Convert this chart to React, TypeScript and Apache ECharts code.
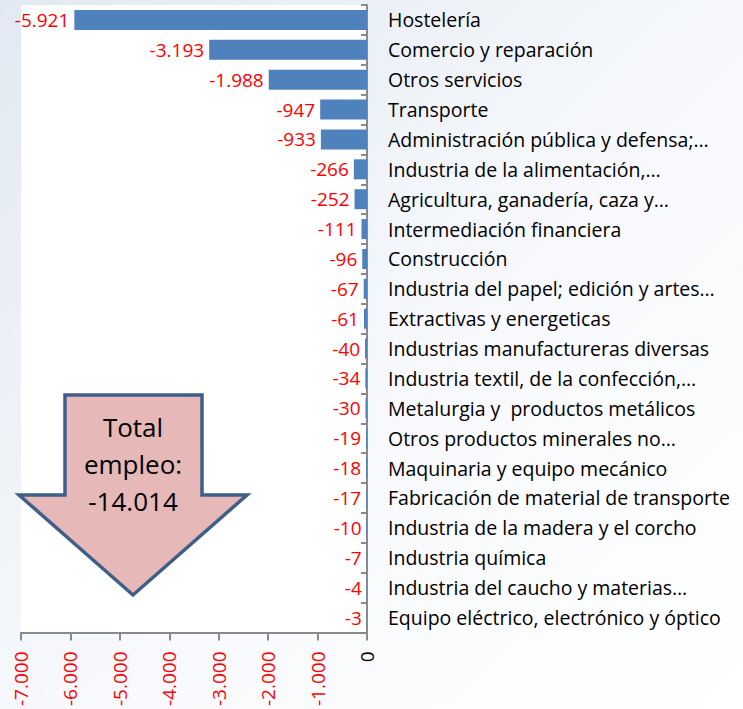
import React, { useEffect, useRef } from "react";
import * as echarts from "echarts";

const categories: string[] = [
  "Hostelería",
  "Comercio y reparación",
  "Otros servicios",
  "Transporte",
  "Administración pública y defensa;…",
  "Industria de la alimentación,…",
  "Agricultura, ganadería, caza y…",
  "Intermediación financiera",
  "Construcción",
  "Industria del papel; edición y artes…",
  "Extractivas y energeticas",
  "Industrias manufactureras diversas",
  "Industria textil, de la confección,…",
  "Metalurgia y  productos metálicos",
  "Otros productos minerales no…",
  "Maquinaria y equipo mecánico",
  "Fabricación de material de transporte",
  "Industria de la madera y el corcho",
  "Industria química",
  "Industria del caucho y materias…",
  "Equipo eléctrico, electrónico y óptico",
];

const values: number[] = [
  -5921, -3193, -1988, -947, -933, -266, -252, -111, -96, -67, -61, -40, -34,
  -30, -19, -18, -17, -10, -7, -4, -3,
];

const axisMin = -7000;
const axisMax = 0;
const axisStep = 1000;

const totalLabel = "Total\nempleo:\n-14.014";

const fmt = (v: number): string => {
  const neg = v < 0;
  const s = Math.abs(Math.round(v))
    .toString()
    .replace(/\B(?=(\d{3})+(?!\d))/g, ".");
  return (neg ? "-" : "") + s;
};

const FONT = "'Open Sans', 'Noto Sans', sans-serif";

export default function App() {
  const ref = useRef<HTMLDivElement>(null);
  useEffect(() => {
    if (!ref.current) return;
    const chart = echarts.init(ref.current, null, { renderer: "svg" });
    chart.setOption({
      animation: false,
      backgroundColor: {
        type: "linear",
        x: 0,
        y: 0,
        x2: 1,
        y2: 1,
        colorStops: [
          { offset: 0, color: "#e2e9f2" },
          { offset: 0.55, color: "#f7f9fc" },
          { offset: 1, color: "#ffffff" },
        ],
      },
      grid: {
        left: 21,
        right: 376,
        top: 5,
        bottom: 76,
        containLabel: false,
        show: true,
        backgroundColor: "#ffffff",
        borderWidth: 0,
      },
      xAxis: {
        type: "value",
        min: axisMin,
        max: axisMax,
        interval: axisStep,
        splitLine: { show: false },
        axisLine: { show: true, lineStyle: { color: "#8a8a8a", width: 2 } },
        axisTick: { show: true, length: 8, lineStyle: { color: "#8a8a8a", width: 2 } },
        axisLabel: {
          rotate: 90,
          margin: 19,
          fontFamily: FONT,
          fontSize: 19,
          color: (v: any) => (Number(v) === 0 ? "#000000" : "#ff0000"),
          formatter: (v: number) => (v === 0 ? "0" : fmt(v)),
        },
      },
      yAxis: {
        type: "category",
        data: categories,
        inverse: true,
        position: "right",
        axisLine: { show: true, lineStyle: { color: "#8a8a8a", width: 2 } },
        axisTick: {
          show: true,
          inside: true,
          length: 6,
          lineStyle: { color: "#8a8a8a", width: 2 },
        },
        axisLabel: {
          margin: 21,
          align: "left",
          fontFamily: FONT,
          fontSize: 19.5,
          color: "#000000",
        },
      },
      series: [
        {
          type: "bar",
          data: values,
          barCategoryGap: "33%",
          itemStyle: { color: "#4f81bd" },
          label: {
            show: true,
            position: "left",
            distance: 5,
            fontFamily: FONT,
            fontSize: 19,
            color: "#ff0000",
            formatter: (p: any) => fmt(p.value),
          },
        },
      ],
      graphic: [
        {
          type: "polygon",
          z: 100,
          shape: {
            points: [
              [65, 395],
              [202, 395],
              [202, 495],
              [247, 495],
              [133, 595],
              [19, 495],
              [65, 495],
            ],
          },
          style: { fill: "#e6b9b8", stroke: "#3f5f88", lineWidth: 3.5, lineJoin: "miter" },
        },
        {
          type: "text",
          z: 101,
          x: 133,
          y: 408,
          style: {
            text: totalLabel,
            fill: "#000000",
            fontFamily: FONT,
            fontSize: 26,
            lineHeight: 37,
            align: "center",
            verticalAlign: "top",
          },
        },
      ],
    });
    return () => chart.dispose();
  }, []);
  return (
    <div
      ref={ref}
      style={{ position: "fixed", left: 0, top: 0, width: 743, height: 709 }}
    />
  );
}
